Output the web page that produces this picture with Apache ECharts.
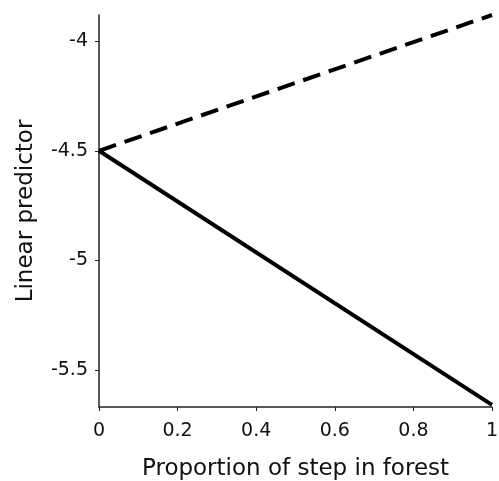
<!DOCTYPE html>
<html><head><meta charset="utf-8">
<script src="https://cdn.jsdelivr.net/npm/echarts@6/dist/echarts.min.js"></script>
<style>html,body{margin:0;padding:0;background:#fff;}#c{width:499px;height:481px;}</style>
</head><body><div id="c"></div>
<script>
const xValues = [0, 1];
const forestDashed = [-4.5, -3.88];
const forestSolid = [-4.5, -5.66];
const xTicks = [0, 0.2, 0.4, 0.6, 0.8, 1];
const yTicks = [-5.5, -5, -4.5, -4];
const xTitle = 'Proportion of step in forest';
const yTitle = 'Linear predictor';

const font = 'DejaVu Sans';
const chart = echarts.init(document.getElementById('c'));
chart.setOption({
  animation: false,
  backgroundColor: '#fff',
  grid: { left: 99, right: 7, top: 15, bottom: 74, containLabel: false, outerBoundsMode: 'none' },
  xAxis: {
    type: 'value', min: 0, max: 1, interval: 0.2,
    name: xTitle, nameLocation: 'middle', nameGap: 51,
    nameTextStyle: { fontFamily: font, fontSize: 23, color: '#111' },
    axisLine: { show: true, onZero: false, lineStyle: { color: '#222', width: 1.5 } },
    axisTick: { show: true, length: 4, lineStyle: { color: '#222' } },
    axisLabel: { fontFamily: font, fontSize: 19, color: '#111', margin: 15,
      formatter: v => xTicks.includes(+v.toFixed(1)) ? String(+v.toFixed(1)) : '' },
    splitLine: { show: false }
  },
  yAxis: {
    type: 'value', min: -5.67, max: -3.88,
    name: yTitle, nameLocation: 'middle', nameGap: 61,
    nameTextStyle: { fontFamily: font, fontSize: 23, color: '#111' },
    axisLine: { show: true, onZero: false, lineStyle: { color: '#222', width: 1.5 } },
    axisTick: { show: true, length: 4, lineStyle: { color: '#222' },
      customValues: yTicks },
    axisLabel: { fontFamily: font, fontSize: 19, color: '#111', margin: 11,
      customValues: yTicks },
    splitLine: { show: false }
  },
  series: [
    { type: 'line', data: xValues.map((x, i) => [x, forestDashed[i]]), symbol: 'none',
      lineStyle: { color: '#000', width: 4, type: [18, 9] } },
    { type: 'line', data: xValues.map((x, i) => [x, forestSolid[i]]), symbol: 'none',
      lineStyle: { color: '#000', width: 4 } }
  ]
});
</script></body></html>
